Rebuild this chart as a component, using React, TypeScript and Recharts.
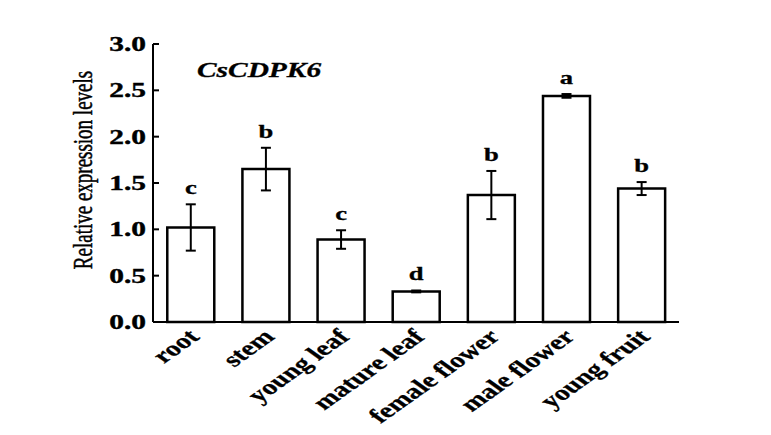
import { BarChart, Bar, XAxis, YAxis, ErrorBar, LabelList } from "recharts";

const TISSUES = ["root", "stem", "young leaf", "mature leaf", "female flower", "male flower", "young fruit"];
const EXPRESSION = [1.02, 1.65, 0.89, 0.33, 1.37, 2.44, 1.44];
const SD = [0.25, 0.23, 0.1, 0.01, 0.26, 0.02, 0.07];
const LETTERS = ["c", "b", "c", "d", "b", "a", "b"];
const Y_TICKS = [0, 0.5, 1, 1.5, 2, 2.5, 3];

const data = TISSUES.map((tissue, i) => ({
  tissue,
  value: EXPRESSION[i],
  err: SD[i],
  letter: LETTERS[i],
}));

const FONT = "'Liberation Serif', 'Times New Roman', serif";
const SX = 1.4; // the source image is stretched horizontally

function YTick({ x, y, payload }: any) {
  return (
    <g>
      <line x1={x} x2={x + 6} y1={y} y2={y} stroke="#000" strokeWidth={2} />
      <text
        transform={`translate(${x - 7},${y}) scale(${SX},1)`}
        textAnchor="end"
        dy="0.34em"
        fontFamily={FONT}
        fontWeight="bold"
        fontSize={21}
        fill="#000"
        stroke="#000"
        strokeWidth={0.4}
      >
        {Number(payload.value).toFixed(1)}
      </text>
    </g>
  );
}

function XTick({ x, y, payload }: any) {
  return (
    <text
      transform={`translate(${x + 10},${y + 16}) scale(${SX},1) rotate(-45)`}
      textAnchor="end"
      fontFamily={FONT}
      fontWeight="bold"
      fontSize={21}
      fill="#000"
      stroke="#000"
      strokeWidth={0.3}
    >
      {payload.value}
    </text>
  );
}

function LetterLabel(props: any) {
  const { x, y, width, height, index, value } = props;
  const ppu = height / EXPRESSION[index];
  const top = y - SD[index] * ppu;
  return (
    <text
      transform={`translate(${x + width / 2},${top - 10}) scale(${SX},1)`}
      textAnchor="middle"
      fontFamily={FONT}
      fontWeight="bold"
      fontSize={19}
      fill="#000"
      stroke="#000"
      strokeWidth={0.3}
    >
      {value}
    </text>
  );
}

function YLabel({ viewBox }: any) {
  const cx = viewBox.x - 10;
  const cy = viewBox.y + viewBox.height / 2 - 13;
  return (
    <text
      transform={`translate(${cx},${cy}) scale(${SX},1) rotate(-90)`}
      textAnchor="middle"
      dy="0.35em"
      fontFamily={FONT}
      fontSize={19}
      fill="#000"
      stroke="#000"
      strokeWidth={0.35}
    >
      Relative expression levels
    </text>
  );
}

export default function App() {
  return (
    <div style={{ position: "absolute", left: 0, top: 0, width: 771, height: 435, background: "#fff" }}>
      <BarChart
        width={771}
        height={435}
        data={data}
        margin={{ top: 44, right: 92, bottom: 53, left: 93 }}
        barCategoryGap="19%"
      >
        <XAxis
          dataKey="tissue"
          height={60}
          interval={0}
          tickSize={0}
          tickMargin={0}
          tickLine={false}
          tick={<XTick />}
          axisLine={{ stroke: "#000", strokeWidth: 2 }}
        />
        <XAxis
          xAxisId="top"
          dataKey="tissue"
          orientation="top"
          height={0}
          tick={false}
          tickLine={false}
          axisLine={{ stroke: "#000", strokeWidth: 2 }}
        />
        <YAxis
          domain={[0, 3]}
          ticks={Y_TICKS}
          width={60}
          tickSize={0}
          tickMargin={0}
          tickLine={false}
          tick={<YTick />}
          axisLine={{ stroke: "#000", strokeWidth: 2 }}
          label={{ content: <YLabel /> }}
        />
        <YAxis
          yAxisId="right"
          orientation="right"
          domain={[0, 3]}
          width={0}
          tick={false}
          tickLine={false}
          axisLine={{ stroke: "#000", strokeWidth: 2 }}
        />
        <Bar dataKey="value" fill="#fff" stroke="#000" strokeWidth={2.5} isAnimationActive={false}>
          <ErrorBar dataKey="err" width={5} stroke="#000" strokeWidth={2} />
          <LabelList dataKey="letter" content={<LetterLabel />} />
        </Bar>
        <text
          transform={`translate(197,77) scale(${SX},1)`}
          fontFamily={FONT}
          fontWeight="bold"
          fontStyle="italic"
          fontSize={21}
          fill="#000"
          stroke="#000"
          strokeWidth={0.3}
        >
          CsCDPK6
        </text>
      </BarChart>
    </div>
  );
}
